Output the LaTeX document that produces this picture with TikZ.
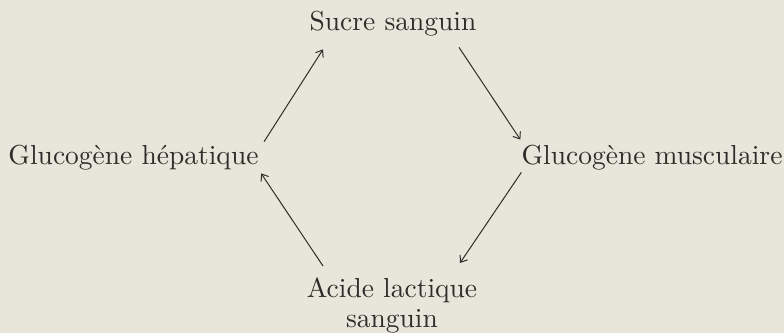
\documentclass[tikz,border=0pt]{standalone}
\usepackage{fontspec}
\setmainfont{lmroman10-regular}[Extension=.otf]
\usetikzlibrary{arrows.meta}
\definecolor{paper}{RGB}{232,230,218}
\definecolor{ink}{RGB}{45,45,42}
\begin{document}
\begin{tikzpicture}[x=1pt,y=1pt,
  lbl/.style={inner sep=0pt,outer sep=0pt,anchor=base,text=ink,
    font=\fontsize{27.5}{30}\selectfont},
  conn/.style={draw=ink,line width=1pt,-{Straight Barb[length=6pt,width=9pt,line width=1pt]}}]
\fill[paper] (0,0) rectangle (784,333);
\useasboundingbox (0,0) rectangle (784,333);
\node[lbl] (suc) at (393,302) {Sucre sanguin};
\node[lbl] (hep) at (133.5,169) {Glucog\`ene h\'epatique};
\node[lbl] (mus) at (652,169) {Glucog\`ene musculaire};
\node[lbl,anchor=north,align=center] (aci) at (392,55) {Acide lactique\\sanguin};
\draw[conn] ([xshift=5.6pt,yshift=3pt]hep.north east) -- ([xshift=-70pt,yshift=-12.7pt]suc.south);
\draw[conn] ([xshift=66pt,yshift=-10.7pt]suc.south) -- ([xshift=-1.2pt,yshift=5pt]mus.north west);
\draw[conn] ([xshift=-0.2pt,yshift=-2.7pt]mus.south west) -- ([xshift=68pt,yshift=15pt]aci.north);
\draw[conn] ([xshift=-69pt,yshift=12pt]aci.north) -- ([xshift=2.6pt,yshift=-3.7pt]hep.south east);
\end{tikzpicture}
\end{document}
